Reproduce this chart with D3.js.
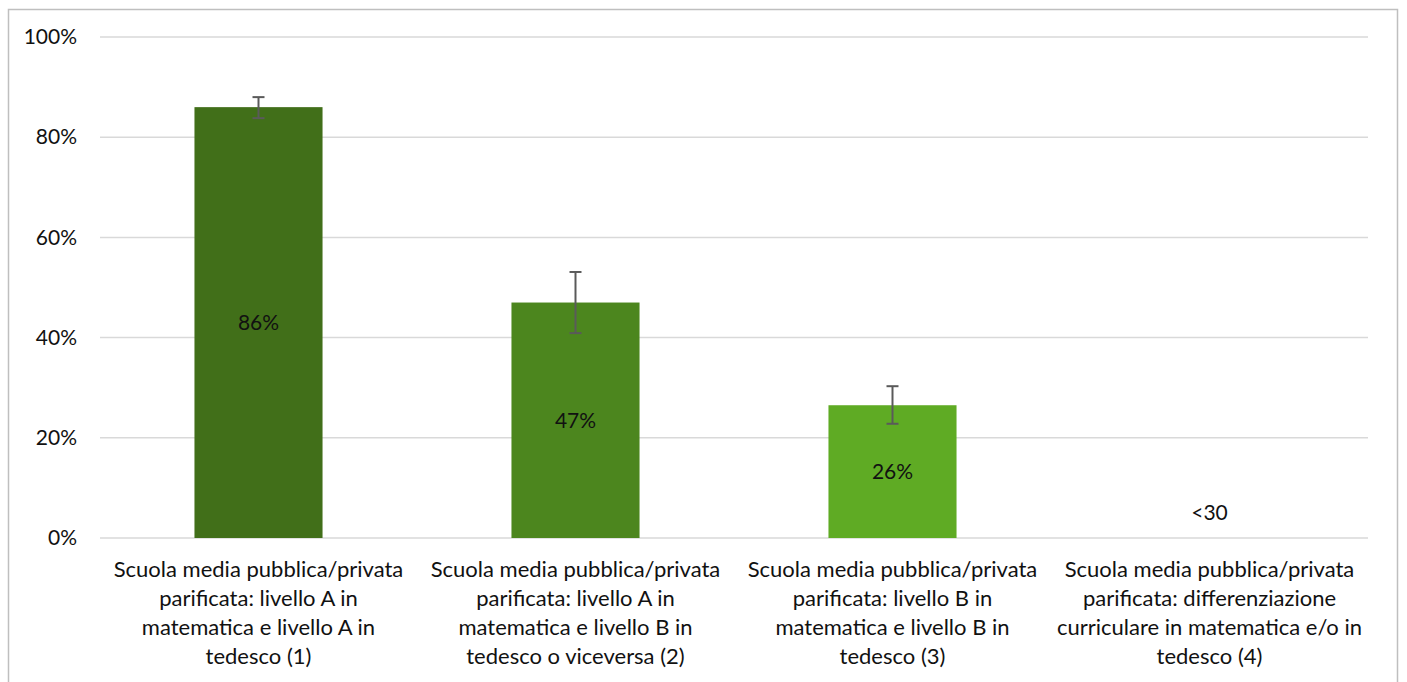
<!DOCTYPE html>
<html><head><meta charset="utf-8">
<script src="https://cdn.jsdelivr.net/npm/d3@7"></script>
<style>body{margin:0;background:#fff;} svg{display:block;font-family:Lato,"Open Sans",sans-serif;}</style>
</head><body>
<svg id="c" width="1407" height="682"></svg>
<script>
const categories = [
  "Scuola media pubblica/privata|parificata: livello A in|matematica e livello A in|tedesco (1)",
  "Scuola media pubblica/privata|parificata: livello A in|matematica e livello B in|tedesco o viceversa (2)",
  "Scuola media pubblica/privata|parificata: livello B in|matematica e livello B in|tedesco (3)",
  "Scuola media pubblica/privata|parificata: differenziazione|curriculare in matematica e/o in|tedesco (4)"
];
const values = [0.86, 0.47, 0.265, null];
const errLow = [0.838, 0.409, 0.228, null];
const errHigh = [0.880, 0.531, 0.303, null];
const valueLabels = ["86%", "47%", "26%", "<30"];
const barColors = ["#416f19", "#4c861e", "#5fab24", "#5fab24"];
const yTicks = [0, 0.2, 0.4, 0.6, 0.8, 1.0];

const svg = d3.select("#c");
const L = 100, R = 1368, T = 37, B = 538;
const x = d3.scaleBand().domain(d3.range(categories.length)).range([L, R]).paddingInner(0.596).paddingOuter(0.298);
const y = d3.scaleLinear().domain([0, 1]).range([B, T]);

// chart border
svg.append("rect").attr("x", 8.5).attr("y", 9.5).attr("width", 1389).attr("height", 690)
  .attr("fill", "none").attr("stroke", "#bfbfbf").attr("stroke-width", 1.5);

// gridlines
svg.append("g").selectAll("line").data(yTicks).join("line")
  .attr("x1", L).attr("x2", R).attr("y1", d => y(d)).attr("y2", d => y(d))
  .attr("stroke", "#d9d9d9").attr("stroke-width", 1.5);

// y axis labels
const yAxis = d3.axisLeft(y).tickValues(yTicks).tickFormat(d3.format(".0%")).tickSize(0).tickPadding(23);
const ya = svg.append("g").attr("transform", `translate(${L},0)`).call(yAxis);
ya.select(".domain").remove();
ya.selectAll("text").attr("font-size", 21).attr("fill", "#111").attr("font-family", "Lato");

// bars
const data = categories.map((c, i) => ({i, v: values[i], lo: errLow[i], hi: errHigh[i], lab: valueLabels[i]}));
svg.append("g").selectAll("rect").data(data.filter(d => d.v != null)).join("rect")
  .attr("x", d => x(d.i)).attr("width", x.bandwidth())
  .attr("y", d => y(d.v)).attr("height", d => y(0) - y(d.v))
  .attr("fill", d => barColors[d.i]);

// error bars
const eg = svg.append("g").attr("stroke", "#5a5a5a").attr("stroke-width", 2);
data.filter(d => d.lo != null).forEach(d => {
  const cx = x(d.i) + x.bandwidth() / 2;
  eg.append("line").attr("x1", cx).attr("x2", cx).attr("y1", y(d.lo)).attr("y2", y(d.hi));
  eg.append("line").attr("x1", cx - 6).attr("x2", cx + 6).attr("y1", y(d.lo)).attr("y2", y(d.lo));
  eg.append("line").attr("x1", cx - 6).attr("x2", cx + 6).attr("y1", y(d.hi)).attr("y2", y(d.hi));
});

// value labels
svg.append("g").selectAll("text").data(data).join("text")
  .attr("x", d => x(d.i) + x.bandwidth() / 2)
  .attr("y", d => d.v != null ? (y(d.v) + y(0)) / 2 : y(0) - 25)
  .attr("dy", "0.35em").attr("text-anchor", "middle")
  .attr("font-size", 21).attr("fill", "#111").text(d => d.lab);

// category labels
const cg = svg.append("g");
categories.forEach((c, i) => {
  const t = cg.append("text").attr("text-anchor", "middle").attr("font-size", 22).attr("fill", "#111");
  c.split("|").forEach((line, k) => {
    t.append("tspan").attr("x", x(i) + x.bandwidth() / 2).attr("y", 577 + k * 29).text(line);
  });
});
</script>
</body></html>
